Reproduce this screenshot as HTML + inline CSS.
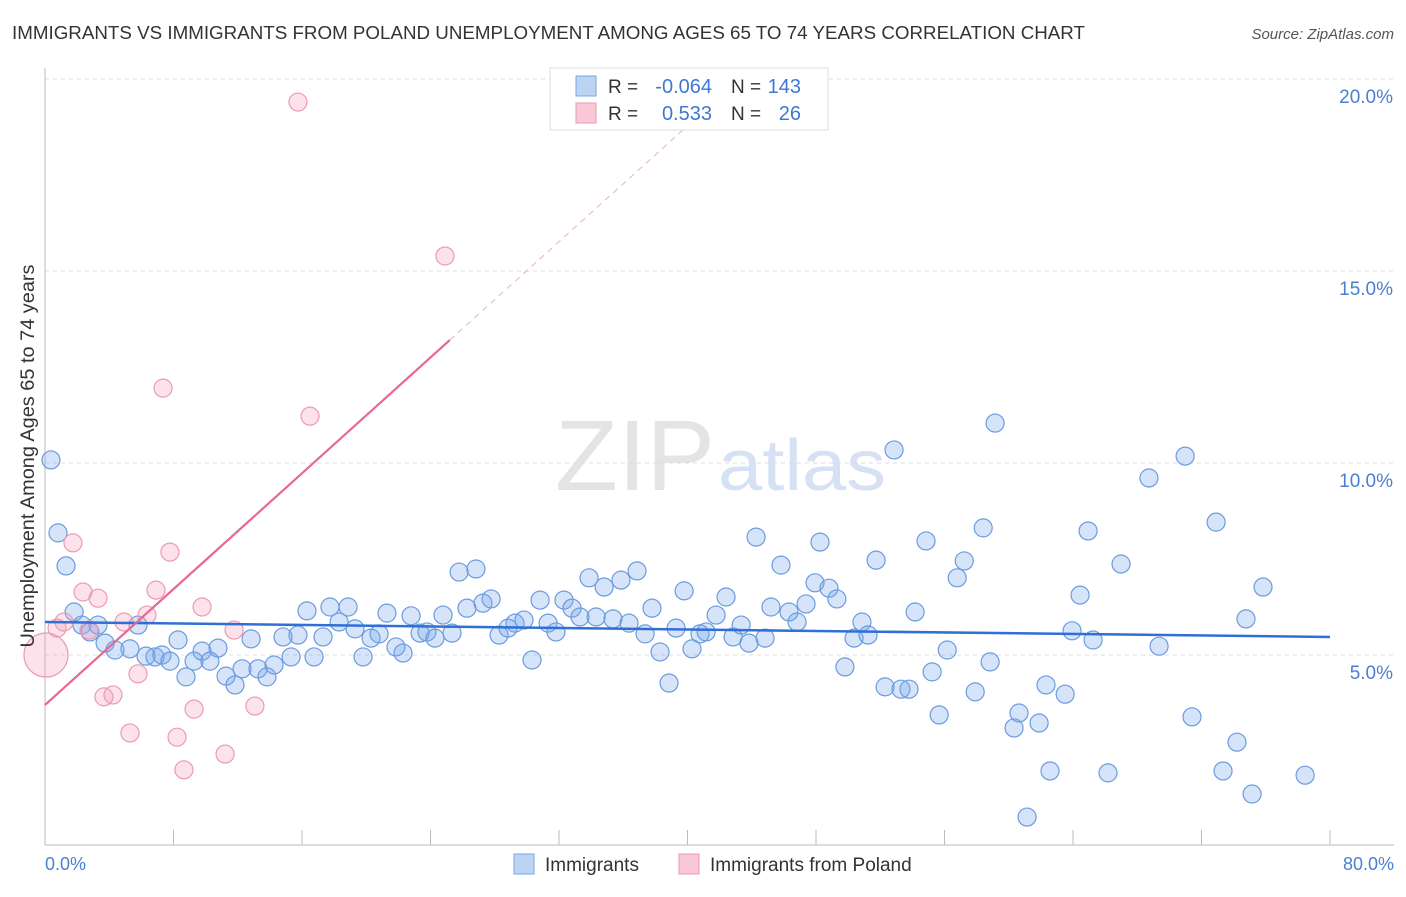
<!DOCTYPE html>
<html><head><meta charset="utf-8"><style>
body{margin:0;background:#fff;font-family:"Liberation Sans",sans-serif;}
svg text{font-family:"Liberation Sans",sans-serif;}
</style></head><body>
<svg id="chart" width="1406" height="892" xmlns="http://www.w3.org/2000/svg">
<text x="12" y="39" font-size="18" fill="#333" textLength="1073" lengthAdjust="spacingAndGlyphs">IMMIGRANTS VS IMMIGRANTS FROM POLAND UNEMPLOYMENT AMONG AGES 65 TO 74 YEARS CORRELATION CHART</text>
<text x="1394" y="39" font-size="15" fill="#555" text-anchor="end" font-style="italic">Source: ZipAtlas.com</text>
<text x="555" y="490" font-size="100" fill="#e4e4e4" textLength="160" lengthAdjust="spacingAndGlyphs" font-family="Liberation Serif">ZIP</text>
<text x="718" y="490" font-size="72" fill="#d6e2f3" textLength="168" lengthAdjust="spacingAndGlyphs">atlas</text>
<g id="grid"></g><g id="axes"></g><g id="marks"></g>
<text x="34" y="456" font-size="19" fill="#333" text-anchor="middle" textLength="383" lengthAdjust="spacingAndGlyphs" transform="rotate(-90 34 456)">Unemployment Among Ages 65 to 74 years</text>
<text x="45" y="870" font-size="18" fill="#4a7fd1">0.0%</text>
<text x="1394" y="870" font-size="18" fill="#4a7fd1" text-anchor="end">80.0%</text>
<g>
<rect x="550" y="68" width="278" height="62" fill="#fff" stroke="#ddd"/>
<rect x="576" y="76" width="20" height="20" fill="#bcd4f4" stroke="#7aa6e3"/>
<rect x="576" y="103" width="20" height="20" fill="#f9c8d6" stroke="#ea9ab2"/>
<text x="608" y="93" font-size="19" fill="#333">R =</text>
<text x="712" y="93" font-size="20" fill="#3f78d4" text-anchor="end">-0.064</text>
<text x="731" y="93" font-size="19" fill="#333">N =</text>
<text x="801" y="93" font-size="20" fill="#3f78d4" text-anchor="end">143</text>
<text x="608" y="120" font-size="19" fill="#333">R =</text>
<text x="712" y="120" font-size="20" fill="#3f78d4" text-anchor="end">0.533</text>
<text x="731" y="120" font-size="19" fill="#333">N =</text>
<text x="801" y="120" font-size="20" fill="#3f78d4" text-anchor="end">26</text>
</g>
<g>
<rect x="514" y="854" width="20" height="20" fill="#bcd4f4" stroke="#7aa6e3"/>
<text x="545" y="871" font-size="19" fill="#333">Immigrants</text>
<rect x="679" y="854" width="20" height="20" fill="#f9c8d6" stroke="#ea9ab2"/>
<text x="710" y="871" font-size="19" fill="#333">Immigrants from Poland</text>
</g>
</svg>
<script>
const yTicks=[5,10,15,20];
const yTickLabels=["5.0%","10.0%","15.0%","20.0%"];
const xTicks=[0,8,16,24,32,40,48,56,64,72,80];
const blueX=[0.37,0.81,1.31,1.81,2.30,2.80,3.30,3.74,4.36,5.29,5.79,6.29,6.85,7.28,7.78,8.28,8.78,9.28,9.78,10.27,10.77,11.27,11.83,12.27,12.83,13.26,13.82,14.26,14.82,15.32,15.75,16.31,16.75,17.31,17.74,18.31,18.87,19.30,19.80,20.30,20.80,21.29,21.85,22.29,22.79,23.35,23.78,24.28,24.78,25.34,25.78,26.27,26.83,27.27,27.77,28.27,28.83,29.26,29.82,30.32,30.82,31.32,31.81,32.31,32.81,33.31,33.87,34.31,34.81,35.36,35.86,36.36,36.86,37.36,37.79,38.29,38.85,39.29,39.79,40.28,40.78,41.16,41.78,42.40,42.84,43.34,43.83,44.27,44.83,45.20,45.82,46.32,46.82,47.38,47.94,48.25,48.81,49.30,49.80,50.37,50.86,51.24,51.74,52.30,52.86,53.29,53.79,54.17,54.85,55.23,55.67,56.17,56.79,57.23,57.91,58.41,58.84,59.15,60.33,60.64,61.14,61.89,62.32,62.57,63.51,63.94,64.44,64.94,65.25,66.18,66.99,68.73,69.36,70.98,71.41,72.91,73.34,74.21,74.77,75.15,75.83,78.45];
const blueY=[10.08,8.18,7.32,6.12,5.78,5.60,5.78,5.31,5.13,5.16,5.78,4.97,4.95,5.0,4.84,5.39,4.43,4.84,5.10,4.84,5.18,4.45,4.22,4.64,5.42,4.64,4.43,4.74,5.47,4.95,5.52,6.15,4.95,5.47,6.25,5.86,6.25,5.68,4.95,5.44,5.55,6.09,5.21,5.05,6.02,5.57,5.60,5.44,6.04,5.57,7.16,6.22,7.24,6.35,6.46,5.52,5.70,5.83,5.91,4.87,6.43,5.83,5.60,6.43,6.22,5.99,7.01,5.99,6.77,5.94,6.95,5.83,7.19,5.55,6.22,5.08,4.27,5.70,6.67,5.16,5.55,5.60,6.04,6.51,5.47,5.78,5.31,8.07,5.44,6.25,7.34,6.12,5.86,6.33,6.88,7.94,6.74,6.46,4.69,5.44,5.86,5.52,7.47,4.17,10.34,4.11,4.11,6.12,7.97,4.56,3.44,5.13,7.01,7.45,4.04,8.31,4.82,11.04,3.10,3.49,0.78,3.23,4.22,1.98,3.98,5.63,6.56,8.23,5.39,1.93,7.37,9.61,5.23,10.18,3.39,8.46,1.98,2.73,5.94,1.38,6.77,1.87];
const pinkX=[0.06,0.75,1.18,1.74,2.37,2.74,3.30,3.67,4.23,4.92,5.29,5.79,6.35,6.91,7.35,7.78,8.22,8.65,9.28,9.78,11.21,11.77,13.07,15.75,16.50,24.90];
const pinkY=[5.0,5.70,5.86,7.92,6.64,5.65,6.48,3.91,3.96,5.86,2.97,4.51,6.04,6.69,11.95,7.68,2.86,2.01,3.59,6.25,2.42,5.65,3.67,19.40,11.22,15.39];
const blueTrend=[5.86,5.47];
const pinkTrend=[3.70,0.377];
const NS="http://www.w3.org/2000/svg";
const X0=45,X1=1330,Y0=847,PX5=192;
function sx(v){return X0+(v/80)*(X1-X0);}
function sy(v){return Y0-v/5*PX5;}
function mk(tag,attrs,parent){const e=document.createElementNS(NS,tag);for(const k in attrs)e.setAttribute(k,attrs[k]);parent.appendChild(e);return e;}
const grid=document.getElementById('grid'),axes=document.getElementById('axes'),marks=document.getElementById('marks');
yTicks.forEach((t,i)=>{
 const l=mk('line',{x1:X0,x2:1394,y1:sy(t),y2:sy(t),stroke:'#ddd','stroke-dasharray':'4,4'},grid);
 
 
 const tx=mk('text',{x:1393,y:sy(t)+24,'font-size':19,fill:'#4a7fd1','text-anchor':'end'},grid);
 tx.textContent=yTickLabels[i];
 
 
});
const ya=mk('line',{x1:X0,x2:X0,y1:68,y2:845,stroke:'#bbb'},axes);


const xa=mk('line',{x1:X0,x2:1394,y1:845,y2:845,stroke:'#bbb'},axes);


xTicks.forEach(t=>{
 const l=mk('line',{x1:sx(t),x2:sx(t),y1:830,y2:845,stroke:'#bbb'},axes);
 
 
});
blueX.forEach((x,i)=>{
 const c=mk('circle',{cx:sx(x),cy:sy(blueY[i]),r:9,fill:'rgba(120,165,235,0.3)',stroke:'#6b9be0','stroke-width':1.2},marks);
 
 
});
pinkX.forEach((x,i)=>{
 const c=mk('circle',{cx:sx(x),cy:sy(pinkY[i]),r:i===0?22:9,fill:'rgba(245,160,185,0.3)',stroke:'#ec9ab2','stroke-width':1.2},marks);
 
 
});
const bt=mk('line',{x1:sx(0),y1:sy(blueTrend[0]),x2:sx(80),y2:sy(blueTrend[1]),stroke:'#2f6fd6','stroke-width':2.5},marks);


const pEnd=25.2,pDash=40.5;
const pt=mk('line',{x1:sx(0),y1:sy(pinkTrend[0]),x2:sx(pEnd),y2:sy(pinkTrend[0]+pinkTrend[1]*pEnd),stroke:'#e8688f','stroke-width':2.2},marks);


const pd=mk('line',{x1:sx(pEnd),y1:sy(pinkTrend[0]+pinkTrend[1]*pEnd),x2:sx(pDash),y2:sy(pinkTrend[0]+pinkTrend[1]*pDash),stroke:'#e8b0c0','stroke-width':1,'stroke-dasharray':'6,5'},marks);


</script>
</body></html>
